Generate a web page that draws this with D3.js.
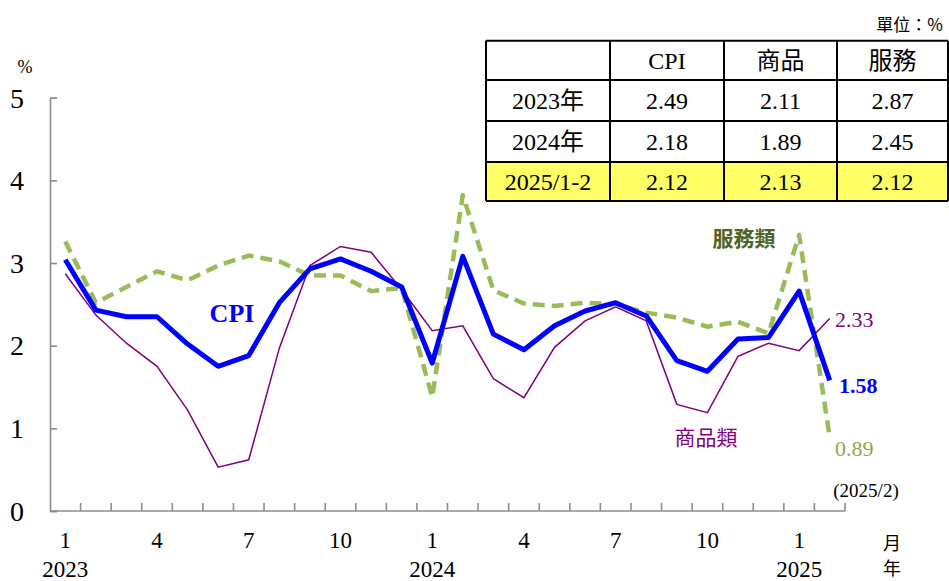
<!DOCTYPE html>
<html>
<head>
<meta charset="utf-8">
<script src="https://cdn.jsdelivr.net/npm/d3@7"></script>
<style>
  html, body { margin: 0; padding: 0; background: #fff; }
  svg { display: block; font-family: "Liberation Serif", "Times New Roman", "Noto Sans CJK TC", serif; }
</style>
</head>
<body>
<svg id="chart" width="949" height="581"></svg>
<script>
// Monthly year-on-year change (%) from 2023/1 to 2025/2
const months = ["2023-01","2023-02","2023-03","2023-04","2023-05","2023-06","2023-07","2023-08","2023-09","2023-10","2023-11","2023-12",
                "2024-01","2024-02","2024-03","2024-04","2024-05","2024-06","2024-07","2024-08","2024-09","2024-10","2024-11","2024-12",
                "2025-01","2025-02"];
const cpi      = [3.04,2.43,2.35,2.35,2.02,1.75,1.88,2.52,2.93,3.05,2.90,2.71,
                  1.79,3.08,2.14,1.95,2.24,2.42,2.52,2.36,1.82,1.69,2.08,2.10,
                  2.66,1.58];
const goods    = [2.87,2.37,2.03,1.75,1.22,0.53,0.62,1.97,2.97,3.20,3.13,2.68,
                  2.18,2.24,1.60,1.37,1.98,2.30,2.47,2.30,1.29,1.19,1.87,2.03,
                  1.94,2.33];
const services = [3.26,2.52,2.71,2.90,2.79,2.97,3.09,3.02,2.85,2.85,2.66,2.70,
                  1.38,3.82,2.67,2.51,2.48,2.52,2.50,2.40,2.34,2.23,2.29,2.15,
                  3.34,0.89];

const monthTicks = [
  {m: "2023-01", label: "1", year: "2023"}, {m: "2023-04", label: "4"}, {m: "2023-07", label: "7"}, {m: "2023-10", label: "10"},
  {m: "2024-01", label: "1", year: "2024"}, {m: "2024-04", label: "4"}, {m: "2024-07", label: "7"}, {m: "2024-10", label: "10"},
  {m: "2025-01", label: "1", year: "2025"}
];
const yTicks = [0, 1, 2, 3, 4, 5];

// Annual summary table
const tableHeader = ["", "CPI", "商品", "服務"];
const tableRows = [
  ["2023年", "2.49", "2.11", "2.87"],
  ["2024年", "2.18", "1.89", "2.45"],
  ["2025/1-2", "2.12", "2.13", "2.12"]
];

const svg = d3.select("#chart");
const x = d3.scaleBand().domain(months).range([50, 845]).paddingInner(0).paddingOuter(0);
const y = d3.scaleLinear().domain([0, 5]).range([511, 97.7]);
const cx = m => x(m) + x.bandwidth() / 2;

const axisColor = "#8c8c8c";

// Y axis
const yAxis = svg.append("g").attr("transform", "translate(50,0)")
  .call(d3.axisRight(y).tickValues(yTicks).tickSize(7).tickFormat(""));
yAxis.select(".domain").attr("stroke", axisColor).attr("stroke-width", 1.6);
yAxis.selectAll(".tick line").attr("stroke", axisColor).attr("stroke-width", 1.6);
svg.append("g").selectAll("text").data(yTicks).join("text")
  .attr("x", 17).attr("y", d => y(d)).attr("dy", "0.35em")
  .attr("text-anchor", "middle").attr("font-size", 28).attr("fill", "#000")
  .text(d => d);
svg.append("text").attr("x", 25).attr("y", 73).attr("text-anchor", "middle")
  .attr("font-size", 18).text("%");

// X axis with ticks at month boundaries
const bounds = months.map(m => x(m)).concat([x.range()[1]]);
svg.append("line").attr("x1", 50).attr("x2", 845).attr("y1", y(0)).attr("y2", y(0))
  .attr("stroke", axisColor).attr("stroke-width", 1.6);
svg.append("g").selectAll("line").data(bounds.slice(1)).join("line")
  .attr("x1", d => d).attr("x2", d => d).attr("y1", y(0)).attr("y2", y(0) - 8)
  .attr("stroke", axisColor).attr("stroke-width", 1.6);
svg.append("g").selectAll("text").data(monthTicks).join("text")
  .attr("x", d => cx(d.m)).attr("y", 548).attr("text-anchor", "middle")
  .attr("font-size", 23).text(d => d.label);
svg.append("g").selectAll("text").data(monthTicks.filter(d => d.year)).join("text")
  .attr("x", d => cx(d.m)).attr("y", 577).attr("text-anchor", "middle")
  .attr("font-size", 23).text(d => d.year);
svg.append("text").attr("x", 892).attr("y", 550).attr("text-anchor", "middle")
  .attr("font-size", 18).attr("font-family", "Noto Sans CJK TC").text("月");
svg.append("text").attr("x", 892).attr("y", 575).attr("text-anchor", "middle")
  .attr("font-size", 18).attr("font-family", "Noto Sans CJK TC").text("年");
svg.append("text").attr("x", 866).attr("y", 497).attr("text-anchor", "middle")
  .attr("font-size", 19).text("(2025/2)");

// Lines
const line = vals => d3.line().x((d, i) => cx(months[i])).y(d => y(d))(vals);
svg.append("path").attr("d", line(goods)).attr("fill", "none")
  .attr("stroke", "#800080").attr("stroke-width", 1.5);
svg.append("path").attr("d", line(services)).attr("fill", "none")
  .attr("stroke", "#9BBB59").attr("stroke-width", 4.5)
  .attr("stroke-dasharray", "12,7").attr("stroke-linejoin", "round");
svg.append("path").attr("d", line(cpi)).attr("fill", "none")
  .attr("stroke", "#0000FF").attr("stroke-width", 5).attr("stroke-linejoin", "round");

// Series labels
svg.append("text").attr("x", 232).attr("y", 322).attr("text-anchor", "middle")
  .attr("font-size", 26).attr("font-weight", "bold").attr("fill", "#0000FF").text("CPI");
svg.append("text").attr("x", 744).attr("y", 246).attr("text-anchor", "middle")
  .attr("font-size", 21).attr("font-weight", "bold").attr("fill", "#4F6228")
  .attr("font-family", "Noto Sans CJK TC").text("服務類");
svg.append("text").attr("x", 706).attr("y", 445).attr("text-anchor", "middle")
  .attr("font-size", 21).attr("fill", "#800080")
  .attr("font-family", "Noto Sans CJK TC").text("商品類");

// End-point values
const last = months.length - 1;
svg.append("text").attr("x", 835).attr("y", 327).attr("font-size", 22)
  .attr("fill", "#800080").text(goods[last].toFixed(2));
svg.append("text").attr("x", 839).attr("y", 393).attr("font-size", 22).attr("font-weight", "bold")
  .attr("fill", "#0000FF").text(cpi[last].toFixed(2));
svg.append("text").attr("x", 835).attr("y", 456).attr("font-size", 22)
  .attr("fill", "#8AAB4A").text(services[last].toFixed(2));

// Summary table
const colX = [486, 610, 724, 837, 948];
const rowY = [40.7, 80, 121, 162, 201];
const tbl = svg.append("g");
tbl.append("rect").attr("x", colX[0]).attr("y", rowY[3]).attr("width", colX[4] - colX[0])
  .attr("height", rowY[4] - rowY[3]).attr("fill", "#FFFF66");
const allRows = [tableHeader].concat(tableRows);
allRows.forEach((row, r) => {
  row.forEach((cell, c) => {
    tbl.append("text")
      .attr("x", (colX[c] + colX[c + 1]) / 2)
      .attr("y", (rowY[r] + rowY[r + 1]) / 2).attr("dy", "0.35em")
      .attr("text-anchor", "middle").attr("font-size", 24).attr("fill", "#000")
      .text(cell);
  });
});
rowY.forEach(yy => tbl.append("line").attr("x1", colX[0]).attr("x2", colX[4])
  .attr("y1", yy).attr("y2", yy).attr("stroke", "#000").attr("stroke-width", 2));
colX.forEach(xx => tbl.append("line").attr("x1", xx).attr("x2", xx)
  .attr("y1", rowY[0]).attr("y2", rowY[4]).attr("stroke", "#000").attr("stroke-width", 2));
svg.append("text").attr("x", 943).attr("y", 31).attr("text-anchor", "end")
  .attr("font-size", 17).attr("font-family", "Noto Sans CJK TC").text("單位：%");
</script>
</body>
</html>
